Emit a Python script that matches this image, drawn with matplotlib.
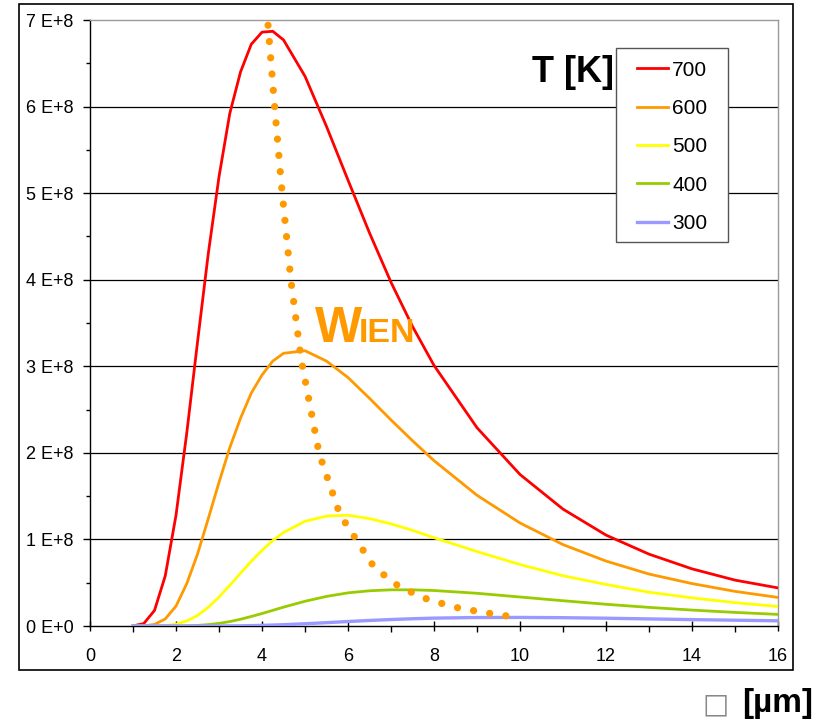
import matplotlib
matplotlib.use("Agg")
import matplotlib.pyplot as plt
from matplotlib.patches import Rectangle
from matplotlib.ticker import MultipleLocator

plt.rcParams['font.family'] = ['Liberation Sans', 'DejaVu Sans']

# --- data (spectral radiance, in units of 1E+8) ---
wavelength = [1, 1.25, 1.5, 1.75, 2, 2.25, 2.5, 2.75, 3, 3.25, 3.5, 3.75, 4, 4.25, 4.5,
              5, 5.5, 6, 6.5, 7, 7.5, 8, 9, 10, 11, 12, 13, 14, 15, 16]

temps = ['700', '600', '500', '400', '300']

rad_700 = [0.001, 0.028, 0.18, 0.58, 1.28, 2.23, 3.28, 4.30, 5.19, 5.92, 6.40, 6.72, 6.86, 6.87, 6.77,
           6.35, 5.77, 5.15, 4.54, 3.97, 3.46, 3.01, 2.29, 1.75, 1.35, 1.05, 0.83, 0.66, 0.53, 0.44]
rad_600 = [0.0, 0.002, 0.018, 0.082, 0.23, 0.49, 0.83, 1.24, 1.66, 2.06, 2.40, 2.69, 2.90, 3.06, 3.15,
           3.18, 3.06, 2.87, 2.63, 2.38, 2.14, 1.91, 1.51, 1.19, 0.94, 0.75, 0.60, 0.49, 0.40, 0.33]
rad_500 = [0.0, 0.0, 0.001, 0.005, 0.021, 0.058, 0.122, 0.216, 0.335, 0.47, 0.61, 0.747, 0.874, 0.987, 1.08,
           1.21, 1.27, 1.28, 1.24, 1.18, 1.105, 1.02, 0.86, 0.71, 0.58, 0.48, 0.39, 0.325, 0.27, 0.225]
rad_400 = [0.0, 0.0, 0.0, 0.0, 0.001, 0.002, 0.007, 0.016, 0.030, 0.051, 0.078, 0.11, 0.144, 0.181, 0.218,
           0.286, 0.342, 0.383, 0.407, 0.418, 0.418, 0.41, 0.378, 0.335, 0.292, 0.251, 0.215, 0.184, 0.157, 0.134]
rad_300 = [0.0, 0.0, 0.0, 0.0, 0.0, 0.0, 0.0, 0.0, 0.0006, 0.0015, 0.0025, 0.0045, 0.0072, 0.011, 0.015,
           0.026, 0.0386, 0.052, 0.064, 0.075, 0.084, 0.091, 0.098, 0.099, 0.096, 0.090, 0.082, 0.074, 0.067, 0.060]

# Wien displacement locus (dotted)
wien_x = [4.14, 4.29, 4.45, 4.67, 4.91, 5.33, 5.81, 6.61, 7.21, 7.89, 8.60, 9.34, 9.75]
wien_y = [6.94, 6.02, 5.10, 4.00, 3.08, 1.99, 1.29, 0.677, 0.447, 0.30, 0.204, 0.142, 0.112]

ytick_vals = [0, 1, 2, 3, 4, 5, 6, 7]
ytick_labels = ['0 E+0', '1 E+8', '2 E+8', '3 E+8', '4 E+8', '5 E+8', '6 E+8', '7 E+8']
xtick_vals = [0, 2, 4, 6, 8, 10, 12, 14, 16]

series = [rad_700, rad_600, rad_500, rad_400, rad_300]
colors = ['#ff0000', '#ff9900', '#ffff00', '#99cc00', '#9999ff']
widths = [2.0, 2.0, 2.0, 2.0, 2.4]
wien_color = '#ff9900'

# --- figure ---
fig = plt.figure(figsize=(8.19, 7.28), dpi=100)
fig.patches.append(Rectangle((0.0232, 0.0797), 0.9451, 0.9148, transform=fig.transFigure,
                             fill=False, edgecolor='black', linewidth=1.2))

ax = fig.add_axes([0.1099, 0.1401, 0.8401, 0.8324])

handles = []
for vals, c, lw, lab in zip(series, colors, widths, temps):
    h, = ax.plot(wavelength, vals, color=c, lw=lw, label=lab, zorder=3)
    handles.append(h)

ax.plot(wien_x, wien_y, color=wien_color, lw=5.2, linestyle=(0, (0.01, 2.25)),
        dash_capstyle='round', zorder=4)

ax.set_xlim(0, 16)
ax.set_ylim(0, 7)
ax.set_xticks(xtick_vals)
ax.set_xticklabels([str(v) for v in xtick_vals])
ax.set_yticks(ytick_vals)
ax.set_yticklabels(ytick_labels)
ax.xaxis.set_minor_locator(MultipleLocator(1))
ax.yaxis.set_minor_locator(MultipleLocator(0.5))

ax.tick_params(axis='x', which='major', direction='inout', length=7, width=1,
               labelsize=13, pad=12)
ax.tick_params(axis='x', which='minor', direction='out', length=4, width=1)
ax.tick_params(axis='y', which='major', direction='out', length=5, width=1,
               labelsize=13, pad=7)
ax.tick_params(axis='y', which='minor', direction='out', length=3, width=1)

for yv in ytick_vals[1:-1]:
    ax.axhline(yv, color='black', lw=0.9, zorder=1)

ax.spines['left'].set_color('black')
ax.spines['bottom'].set_color('black')
ax.spines['top'].set_color('#999999')
ax.spines['right'].set_color('#999999')
for s in ax.spines.values():
    s.set_linewidth(1.0)

# WIEN label (small caps look)
fig.text(0.3846, 0.5302, 'W', fontsize=36, fontweight='bold',
         color=wien_color, va='baseline', ha='left')
fig.text(0.4384, 0.5302, 'IEN', fontsize=24.5, fontweight='bold',
         color=wien_color, va='baseline', ha='left')

# T [K] title next to legend
fig.text(0.6496, 0.8874, 'T [K]', fontsize=26, fontweight='bold', ha='left', va='baseline')

# legend with a hand-placed frame
fig.patches.append(Rectangle((0.752, 0.668), 0.137, 0.266, transform=fig.transFigure,
                             facecolor='white', edgecolor='#555555', linewidth=1.0, zorder=5))
leg = fig.legend(handles=handles, loc='upper left', bbox_to_anchor=(0.765, 0.931),
                 frameon=False, fontsize=15, handlelength=1.5, handletextpad=0.2,
                 labelspacing=0.93, borderpad=0.5, borderaxespad=0)
leg.set_zorder(6)

# x axis label (lambda shown as missing-glyph box)
fig.text(0.858, 0.022, '\u25a1', fontsize=20, color='#888888', ha='left', va='baseline',
         family=['DejaVu Sans'])
fig.text(0.9925, 0.022, '[µm]', fontsize=24, fontweight='bold', ha='right', va='baseline')

fig.savefig('out.png', dpi=100)
